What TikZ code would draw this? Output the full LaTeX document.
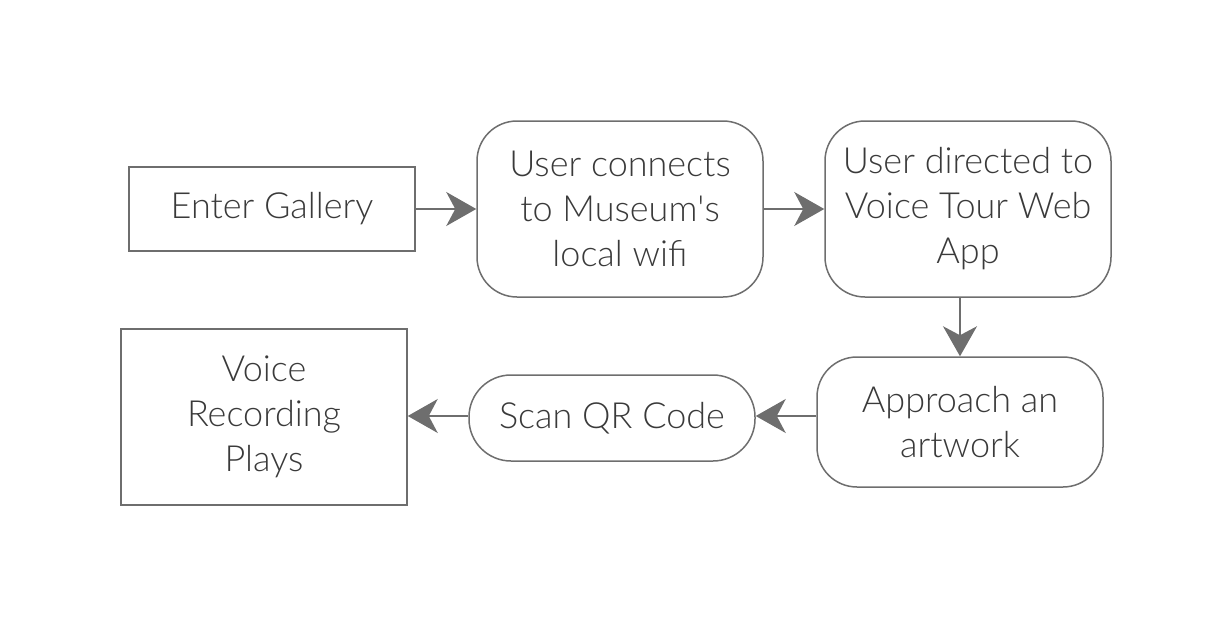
\documentclass[tikz,border=0pt]{standalone}
\usepackage{fontspec}
\setmainfont{Lato}[UprightFont={* Light}]
\usetikzlibrary{arrows.meta}
\definecolor{ln}{HTML}{6E6E6E}
\definecolor{tx}{HTML}{3A3A3A}
\newcommand{\straightapos}{\XeTeXglyph\XeTeXcharglyph"27\relax}
\tikzset{
  base/.style={draw=ln, line width=1.5pt, text=tx, font=\fontsize{36}{45}\selectfont, align=center, minimum width=286pt, inner sep=0pt},
  rect/.style={base},
  rbox/.style={base, rounded corners=40pt},
  pill/.style={base, rounded corners=42pt},
  conn/.style={draw=ln, line width=1.5pt, -{Stealth[length=30pt,width=34pt,inset=9pt]}}
}
\begin{document}
\begin{tikzpicture}[x=1pt,y=-1pt]
\useasboundingbox (0,0) rectangle (1232,626);
\node[rect, minimum height=84pt] (enter) at (272,209) {Enter Gallery};
\node[rbox, minimum height=176pt] (wifi) at (620,209) {User connects\\to Museum\straightapos s\\local wifi};
\node[rbox, minimum height=176pt] (app) at (968,209) {User directed to\\Voice Tour Web\\App};
\node[rbox, minimum height=130pt] (appr) at (960,422) {Approach an\\artwork};
\node[pill, minimum height=86pt] (scan) at (612,418) {Scan QR Code};
\node[rect, minimum height=176pt] (voice) at (264,417) {Voice\\Recording\\Plays};
\draw[conn] (enter.east) -- (wifi.west |- enter.east);
\draw[conn] (wifi.east) -- (app.west);
\draw[conn] (appr.north |- app.south) -- (appr.north);
\draw[conn] ([yshift=2pt]scan.east -| appr.west) -- ([yshift=2pt]scan.east);
\draw[conn] ([yshift=2pt]scan.west) -- ([yshift=2pt]scan.west -| voice.east);
\end{tikzpicture}
\end{document}
